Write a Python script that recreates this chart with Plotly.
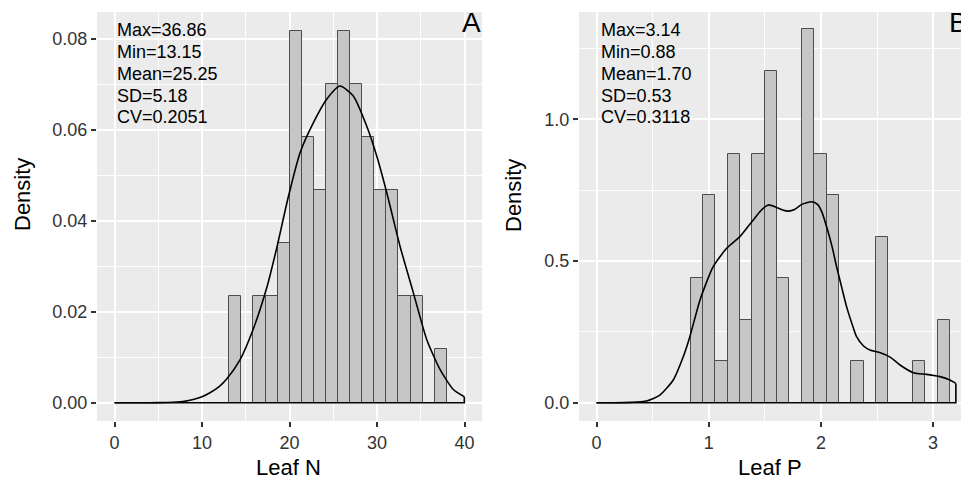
import plotly.graph_objects as go

# page body has an 8px default margin; figure is sized to fill the rest of the window
OFF = 8
W, H = 969 - OFF, 479 - OFF

# ---------------- data ----------------
# Panel A: Leaf N histogram (density scale)
binstart_A = 13.12
binwidth_A = 1.3806
density_A = [0.0234, 0.0, 0.0234, 0.0234, 0.0351, 0.0818, 0.0584, 0.0467, 0.0701,
             0.0818, 0.0701, 0.0584, 0.0467, 0.0467, 0.0234, 0.0234, 0.0, 0.0117]
kde_x_A = [0, 2, 4, 6.0, 6.72, 8.0, 9.0, 10.0, 10.91, 12.0, 12.82, 14.34, 15.86, 17.39, 18.54,
           19.86, 21.2, 22.72, 24.25, 25.77, 27.29, 28.82, 29.97, 31.11, 32.63,
           34.15, 35.68, 37.2, 38.72, 39.98]
kde_y_A = [0, 0, 0, 0.00005, 0.0001, 0.0003, 0.0007, 0.0013, 0.0022, 0.0036, 0.0052, 0.0094,
           0.0162, 0.0252, 0.0340, 0.0452, 0.0549, 0.0615, 0.0667, 0.0696,
           0.0674, 0.0608, 0.0542, 0.0462, 0.0344, 0.0242, 0.0139, 0.0073,
           0.0029, 0.0013]
stats_A = ["Max=36.86", "Min=13.15", "Mean=25.25", "SD=5.18", "CV=0.2051"]

# Panel B: Leaf P histogram (density scale)
binstart_B = 0.838
binwidth_B = 0.1102
density_B = [0.439, 0.732, 0.146, 0.878, 0.293, 0.878, 1.171, 0.439, 0.0, 1.318,
             0.878, 0.732, 0.0, 0.146, 0.0, 0.586, 0.0, 0.0, 0.146, 0.0, 0.293]
kde_x_B = [0, 0.15, 0.298, 0.446, 0.565, 0.684, 0.773, 0.832, 0.922, 1.040, 1.160,
           1.278, 1.397, 1.470, 1.530, 1.600, 1.660, 1.709, 1.770, 1.830, 1.917, 1.970,
           2.010, 2.051, 2.100, 2.140, 2.190, 2.229, 2.280, 2.318, 2.380, 2.437,
           2.530, 2.620, 2.705, 2.823, 2.942, 3.061, 3.150, 3.203]
kde_y_B = [0, 0, 0.001, 0.006, 0.027, 0.080, 0.162, 0.233, 0.362, 0.480, 0.545,
           0.586, 0.645, 0.680, 0.698, 0.690, 0.680, 0.676, 0.683, 0.700, 0.709, 0.700,
           0.672, 0.621, 0.550, 0.480, 0.400, 0.339, 0.275, 0.233, 0.200, 0.186,
           0.176, 0.160, 0.133, 0.106, 0.100, 0.092, 0.080, 0.068]
stats_B = ["Max=3.14", "Min=0.88", "Mean=1.70", "SD=0.53", "CV=0.3118"]

xticks_A = [0, 10, 20, 30, 40]
yticks_A = [0.00, 0.02, 0.04, 0.06, 0.08]
xticks_B = [0, 1, 2, 3]
yticks_B = [0.0, 0.5, 1.0]

# ---------------- styling / layout ----------------
PANEL = "#EBEBEB"
BARFILL = "#C6C6C6"
BAREDGE = "#4D4D4D"
TICKCOL = "#333333"
FONT = "Liberation Sans, Arial, sans-serif"


def px_x(p):
    return (p - OFF) / W


def px_y(p):
    return 1 - (p - OFF) / H


ydom = [px_y(421), px_y(12)]
xdom_A = [px_x(97), px_x(482)]
xdom_B = [px_x(579), 1.0]

fig = go.Figure()


def add_panel(binstart, binwidth, dens, kx, ky, xa, ya):
    centers = [binstart + binwidth * (i + 0.5) for i in range(len(dens))]
    fig.add_trace(go.Bar(x=centers, y=dens, width=[binwidth] * len(dens),
                         marker=dict(color=BARFILL, line=dict(color=BAREDGE, width=1)),
                         xaxis=xa, yaxis=ya, showlegend=False, hoverinfo="skip"))
    fig.add_trace(go.Scatter(x=kx, y=ky, mode="lines",
                             line=dict(color="black", width=1.6, shape="spline", smoothing=0.6),
                             xaxis=xa, yaxis=ya, showlegend=False, hoverinfo="skip"))
    # closing edge of the density polygon (vertical drop and baseline)
    fig.add_trace(go.Scatter(x=[kx[-1], kx[-1], kx[0]], y=[ky[-1], 0, 0], mode="lines",
                             line=dict(color="black", width=1.6),
                             xaxis=xa, yaxis=ya, showlegend=False, hoverinfo="skip"))


add_panel(binstart_A, binwidth_A, density_A, kde_x_A, kde_y_A, "x", "y")
add_panel(binstart_B, binwidth_B, density_B, kde_x_B, kde_y_B, "x2", "y2")


def axis_common(dom, rng, tickvals, ticktext, minorvals, anchor):
    return dict(domain=dom, range=rng, tickvals=tickvals, ticktext=ticktext,
                ticks="outside", ticklen=5, tickwidth=1.5, tickcolor=TICKCOL,
                tickfont=dict(size=18, color=TICKCOL, family=FONT),
                showgrid=True, gridcolor="white", gridwidth=2,
                zeroline=False, showline=False, anchor=anchor, fixedrange=True,
                automargin=False,
                minor=dict(tickvals=minorvals, showgrid=True, gridcolor="white",
                           gridwidth=1, ticks=""))


fig.update_layout(
    width=W, height=H,
    margin=dict(l=0, r=0, t=0, b=0, autoexpand=False),
    paper_bgcolor="white",
    plot_bgcolor=PANEL,
    bargap=0,
    font=dict(family=FONT, color="black"),
    xaxis=axis_common(xdom_A, [-2, 42], xticks_A, [str(v) for v in xticks_A],
                      [5, 15, 25, 35], "y"),
    yaxis=axis_common(ydom, [-0.00402, 0.08587], yticks_A, ["%.2f" % v for v in yticks_A],
                      [0.01, 0.03, 0.05, 0.07], "x"),
    xaxis2=axis_common(xdom_B, [-0.156, 3.320], xticks_B, [str(v) for v in xticks_B],
                       [0.5, 1.5, 2.5], "y2"),
    yaxis2=axis_common(ydom, [-0.0646, 1.379], yticks_B, ["%.1f" % v for v in yticks_B],
                       [0.25, 0.75, 1.25], "x2"),
)

ann = []
# stats text blocks, one annotation per line
for left, stats in ((115, stats_A), (599, stats_B)):
    for i, s in enumerate(stats):
        ann.append(dict(xref="paper", yref="paper", x=px_x(left), y=px_y(30.5 + 21.7 * i),
                        xanchor="left", yanchor="middle", align="left", showarrow=False,
                        text=s, font=dict(size=18, color="black", family=FONT)))
# panel letters
ann.append(dict(xref="paper", yref="paper", x=px_x(471.5), y=px_y(23), xanchor="center",
                yanchor="middle", showarrow=False, text="A",
                font=dict(size=28, color="black", family=FONT)))
ann.append(dict(xref="paper", yref="paper", x=px_x(958), y=px_y(23), xanchor="center",
                yanchor="middle", showarrow=False, text="B",
                font=dict(size=28, color="black", family=FONT)))
# axis titles
for cx, t in ((288.5, "Leaf N"), (770, "Leaf P")):
    ann.append(dict(xref="paper", yref="paper", x=px_x(cx), y=px_y(467), xanchor="center",
                    yanchor="middle", showarrow=False, text=t,
                    font=dict(size=22, color="black", family=FONT)))
for cx in (22, 513):
    ann.append(dict(xref="paper", yref="paper", x=px_x(cx), y=px_y(195), xanchor="center",
                    yanchor="middle", showarrow=False, text="Density", textangle=-90,
                    font=dict(size=22, color="black", family=FONT)))
fig.update_layout(annotations=ann)

fig.write_html("out.html")
